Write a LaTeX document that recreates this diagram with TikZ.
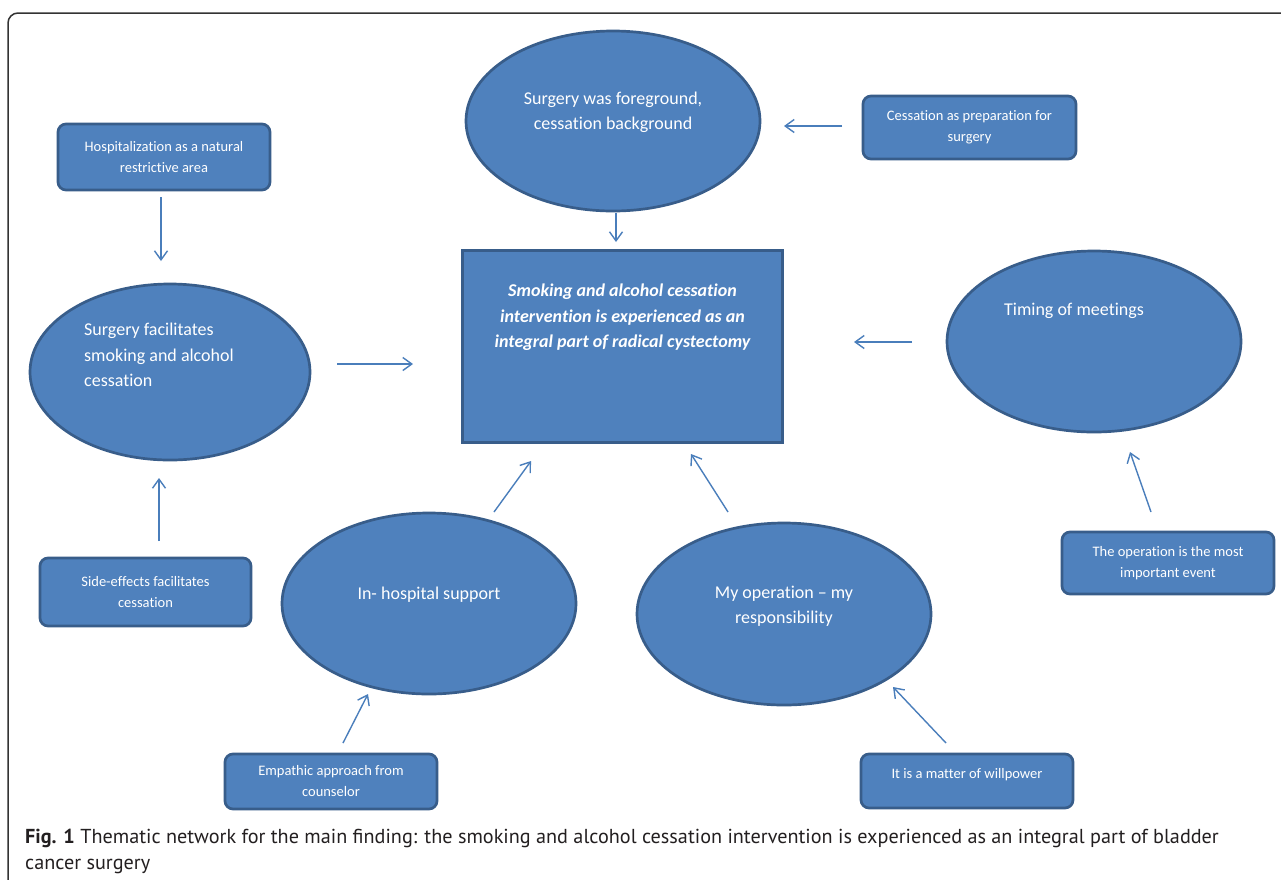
\documentclass[tikz,border=0pt]{standalone}
\usepackage{fontspec}
\setmainfont[Ligatures=NoCommon]{Carlito}
\newfontfamily\capfont{PT Sans}
\usetikzlibrary{arrows.meta,shapes.geometric}
\definecolor{boxfill}{HTML}{4F81BD}
\definecolor{boxline}{HTML}{385D8A}
\definecolor{arrowcol}{HTML}{4A7EBB}
\definecolor{framecol}{HTML}{333333}
\definecolor{captext}{HTML}{231F20}
\begin{document}
\begin{tikzpicture}[x=1pt,y=-1pt,
  rbox/.style={draw=boxline, fill=boxfill, line width=2.7pt, rounded corners=8pt, text=white, align=center, font=\fontsize{14.5}{21}\selectfont, inner sep=0pt},
  mainbox/.style={draw=boxline, fill=boxfill, line width=2.7pt, inner sep=0pt},
  ell/.style={ellipse, draw=boxline, fill=boxfill, line width=2.7pt, inner sep=0pt},
  etext/.style={text=white, font=\fontsize{18}{25.5}\selectfont, inner sep=0pt},
  mtext/.style={text=white, font=\fontsize{18}{25.5}\selectfont\bfseries\itshape, inner sep=0pt, align=center},
  conn/.style={draw=arrowcol, line width=1.4pt, -{Straight Barb[length=9pt,width=13pt]}},
  captxt/.style={text=captext, font=\capfont\fontsize{20.2}{27}\selectfont, inner sep=0pt, anchor=base west},
]
\useasboundingbox (0,0) rectangle (1281,879);
\fill[white] (0,0) rectangle (1281,879);
% frame
\coordinate (fa) at (8,890);
\coordinate (fb) at (8,13);
\coordinate (fc) at (1295,13);
\draw[framecol, line width=1.5pt, rounded corners=10pt] (fa) -- (fb) -- (fc);

% rounded boxes
\node[rbox, minimum width=212pt, minimum height=66pt] (hosp) at (164,157) {Hospitalization as a natural\\restrictive area};
\node[rbox, minimum width=213pt, minimum height=63pt] (prep) at (969.5,127.5) {Cessation as preparation for\\surgery};
\node[rbox, minimum width=211pt, minimum height=68pt] (side) at (145.5,592) {Side-effects facilitates\\cessation};
\node[rbox, minimum width=212pt, minimum height=62pt] (event) at (1168,563) {The operation is the most\\important event};
\node[rbox, minimum width=212pt, minimum height=55pt] (emp) at (331,781.5) {Empathic approach from\\counselor};
\node[rbox, minimum width=212pt, minimum height=54pt] (will) at (967,781) {It is a matter of willpower\\[-12pt]\strut};

% central box
\node[mainbox, minimum width=320pt, minimum height=192pt] (main) at (622.5,346.5) {};
\node[mtext] (maint) at (622.5,317.5) {Smoking and alcohol cessation\\intervention is experienced as an\\integral part of radical cystectomy};

% ellipses
\node[ell, minimum width=280pt, minimum height=176pt] (facil) at (170,372) {};
\node[etext, anchor=west, align=left] (facilt) at (84,355) {Surgery facilitates\\smoking and alcohol\\cessation};
\node[ell, minimum width=294pt, minimum height=180pt] (fore) at (613,121) {};
\node[etext, align=center] (foret) at (613,112.5) {Surgery was foreground,\\cessation background};
\node[ell, minimum width=294pt, minimum height=181pt] (timing) at (1094,341.5) {};
\node[etext] (timingt) at (1074,311) {Timing of meetings};
\node[ell, minimum width=294pt, minimum height=181pt] (inhosp) at (429,603.5) {};
\node[etext] (inhospt) at (429,595) {In- hospital support};
\node[ell, minimum width=294pt, minimum height=182pt] (myop) at (784,614) {};
\node[etext, align=center] (myopt) at (784,606) {My operation – my\\responsibility};

% arrow end points
\coordinate (a1s) at (161,197);  \coordinate (a1e) at (161,261);
\coordinate (a2s) at (337,364);  \coordinate (a2e) at (413,364);
\coordinate (a3s) at (159,541);  \coordinate (a3e) at (159,478);
\coordinate (a4s) at (616,213);  \coordinate (a4e) at (616,242);
\coordinate (a5s) at (842,126);  \coordinate (a5e) at (784,126);
\coordinate (a6s) at (912,342);  \coordinate (a6e) at (854,342);
\coordinate (a7s) at (1151,512); \coordinate (a7e) at (1130,452);
\coordinate (a8s) at (494,512);  \coordinate (a8e) at (531,461);
\coordinate (a9s) at (728,512);  \coordinate (a9e) at (691,454);
\coordinate (a10s) at (343,743); \coordinate (a10e) at (368,694);
\coordinate (a11s) at (946,743); \coordinate (a11e) at (893,687);
\draw[conn] (a1s) -- (a1e);
\draw[conn] (a2s) -- (a2e);
\draw[conn] (a3s) -- (a3e);
\draw[conn] (a4s) -- (a4e);
\draw[conn] (a5s) -- (a5e);
\draw[conn] (a6s) -- (a6e);
\draw[conn] (a7s) -- (a7e);
\draw[conn] (a8s) -- (a8e);
\draw[conn] (a9s) -- (a9e);
\draw[conn] (a10s) -- (a10e);
\draw[conn] (a11s) -- (a11e);

% caption
\node[captxt] (cap1) at (25,843) {\textbf{Fig. 1} Thematic network for the main finding: the smoking and alcohol cessation intervention is experienced as an integral part of bladder};
\node[captxt] (cap2) at (25,869) {cancer surgery};
\end{tikzpicture}
\end{document}
